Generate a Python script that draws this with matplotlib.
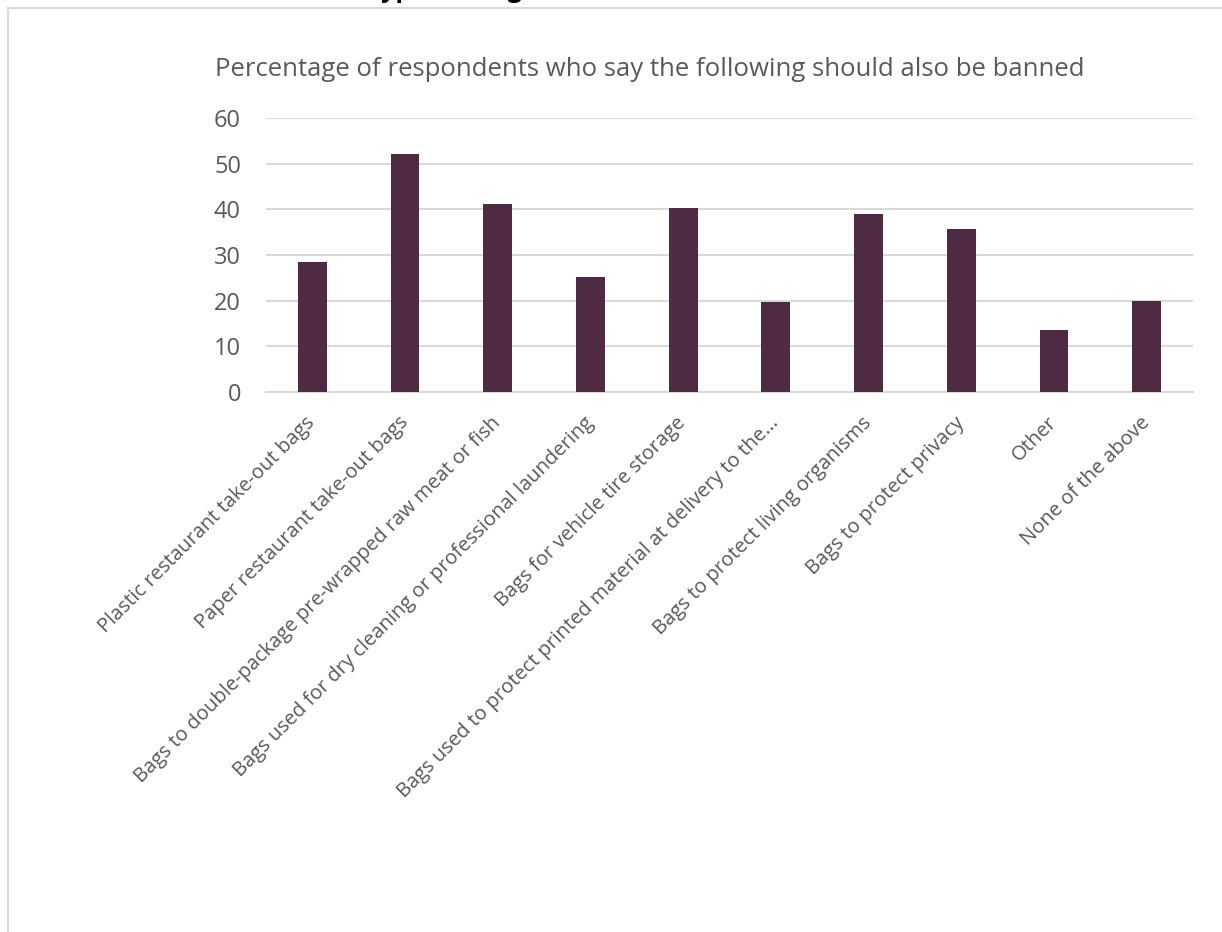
import matplotlib
matplotlib.use('Agg')
import matplotlib.pyplot as plt
from matplotlib.lines import Line2D

# chart data
categories = ['Plastic restaurant take-out bags',
              'Paper restaurant take-out bags',
              'Bags to double-package pre-wrapped raw meat or fish',
              'Bags used for dry cleaning or professional laundering',
              'Bags for vehicle tire storage',
              'Bags used to protect printed material at delivery to the...',
              'Bags to protect living organisms',
              'Bags to protect privacy',
              'Other',
              'None of the above']
values = [28.4, 52.2, 41.2, 25.2, 40.3, 19.7, 39.0, 35.7, 13.5, 19.9]
yticks = [0, 10, 20, 30, 40, 50, 60]
title = 'Percentage of respondents who say the following should also be banned'

plt.rcParams['font.family'] = ['Open Sans', 'DejaVu Sans']
txt = '#595959'
W, H = 1222, 932

fig = plt.figure(figsize=(W / 100, H / 100), dpi=100)
# light border of the chart box, only top and left edges are in view
fig.lines.append(Line2D([8 / W, 1], [1 - 8 / H, 1 - 8 / H], transform=fig.transFigure,
                        color='#d9d9d9', linewidth=1.5))
fig.lines.append(Line2D([8 / W, 8 / W], [0, 1 - 8 / H], transform=fig.transFigure,
                        color='#d9d9d9', linewidth=1.5))
# heading sits above the picture, only its descenders show
fig.text(412 / W, 1 + 3 / H, 'Other types of bags', ha='center', va='baseline',
         fontsize=18, fontweight='bold', color='black')

ax = fig.add_axes([266 / W, 1 - 392 / H, (1193 - 266) / W, (392 - 118) / H])
x = range(len(categories))
ax.bar(x, values, width=0.31, color='#4f2a43', zorder=3)

ax.set_xlim(-0.5, len(categories) - 0.5)
ax.set_ylim(0, 60)
ax.set_yticks(yticks)
ax.yaxis.grid(True, color='#d9d9d9', linewidth=1.5, zorder=0)
for s in ['top', 'right', 'left']:
    ax.spines[s].set_visible(False)
ax.spines['bottom'].set_color('#d9d9d9')
ax.spines['bottom'].set_linewidth(1.5)
ax.tick_params(axis='both', length=0)
ax.tick_params(axis='y', labelsize=17, labelcolor=txt, pad=18)
ax.set_xticks(list(x))
ax.set_xticklabels(categories, rotation=45, ha='right', va='center',
                   rotation_mode='anchor', fontsize=14.5, color=txt)
ax.tick_params(axis='x', pad=20)

fig.text(650 / W, 1 - 70 / H, title, ha='center', va='center', fontsize=18.5, color=txt)

fig.savefig('out.png', dpi=100)
